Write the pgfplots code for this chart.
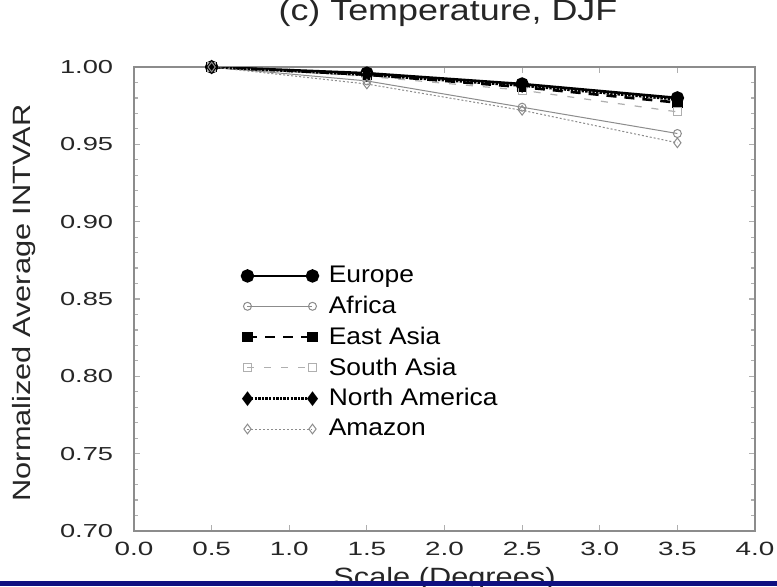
\documentclass[border=0pt]{standalone}
\usepackage{pgfplots}
\pgfplotsset{compat=1.18}
\usepackage{graphicx}
\usepackage{fontspec}
\setmainfont{Liberation Sans}
\definecolor{navyband}{RGB}{16,16,128}
\definecolor{frame}{RGB}{140,140,140}
\definecolor{grayA}{RGB}{140,140,140}
\definecolor{grayS}{RGB}{175,175,175}
\newcommand{\legtxt}[1]{\scalebox{1.1}[1]{#1}}
\begin{document}
\begin{tikzpicture}
\useasboundingbox (0,0) rectangle (388.5pt,293pt);
\clip (0,0) rectangle (388.5pt,293pt);
\fill[white] (0,0) rectangle (388.5pt,293pt);
\begin{axis}[
  at={(67pt,27.5pt)}, anchor=south west,
  scale only axis, width=310.5pt, height=232pt,
  xmin=0, xmax=4, ymin=0.70, ymax=1.00,
  xtick={0,0.5,...,4}, ytick={0.70,0.75,...,1.001},
  minor y tick num=4,
  axis line style={frame, line width=0.8pt},
  major tick style={grayS, line width=0.6pt},
  minor tick style={grayS, line width=0.6pt},
  major tick length=3pt, minor tick length=1.8pt,
  tick align=inside,
  /pgf/number format/assume math mode=true,
  xticklabel style={/pgf/number format/.cd, fixed, fixed zerofill, precision=1, /tikz/.cd, font=\fontsize{9.6}{10}\selectfont, xscale=1.45, inner sep=0pt, yshift=-5.5pt, text=black!85},
  yticklabel style={/pgf/number format/.cd, fixed, fixed zerofill, precision=2, /tikz/.cd, font=\fontsize{9.4}{10}\selectfont, xscale=1.45, inner sep=0pt, xshift=-7pt, text=black!85},
  title={(c) Temperature, DJF},
  title style={at={(axis description cs:0.5056,1.0733)}, anchor=base, font=\fontsize{14.7}{16}\selectfont, xscale=1.22, inner sep=0pt, text=black!85},
  ylabel={Normalized Average INTVAR},
  ylabel style={at={(axis description cs:-0.1771,0.4914)}, anchor=center, font=\fontsize{12.5}{14}\selectfont, xscale=1.23, inner sep=0pt, text=black!85},
  xlabel={Scale (Degrees)},
  xlabel style={at={(axis description cs:0.5,-0.1185)}, anchor=base, font=\fontsize{12.5}{14}\selectfont, xscale=1.23, inner sep=0pt, text=black!85},
  legend image code/.code={\draw[#1] plot coordinates {(0pt,0pt) (32.5pt,0pt)};},
  legend style={at={(axis description cs:0.1734,0.5716)}, anchor=north west, draw=none, fill=none, inner sep=0pt, row sep=5.2pt, column sep=5.5pt,
    nodes={inner sep=0pt, font=\fontsize{12}{13}\selectfont}},
  legend cell align=left,
]
\addplot[black, line width=1.3pt, mark=*, mark size=2.7pt, mark options={solid, fill=black}]
  coordinates {(0.5,1.000) (1.5,0.996) (2.5,0.989) (3.5,0.980)};
\addlegendentry{\legtxt{Europe}}
\addplot[grayA, line width=0.5pt, mark=o, mark size=2pt, mark options={solid, fill=white}]
  coordinates {(0.5,1.000) (1.5,0.991) (2.5,0.974) (3.5,0.957)};
\addlegendentry{\legtxt{Africa}}
\addplot[black, line width=1.3pt, dash pattern=on 5pt off 4pt, mark=square*, mark size=2pt, mark options={solid, fill=black}]
  coordinates {(0.5,1.000) (1.5,0.995) (2.5,0.987) (3.5,0.977)};
\addlegendentry{\legtxt{East Asia}}
\addplot[grayS, line width=0.6pt, dash pattern=on 3.5pt off 5pt, mark=square, mark size=2pt, mark options={solid, fill=white}]
  coordinates {(0.5,1.000) (1.5,0.994) (2.5,0.985) (3.5,0.971)};
\addlegendentry{\legtxt{South Asia}}
\addplot[black, line width=1.3pt, dash pattern=on 1.2pt off 0.6pt, mark=diamond*, mark size=2.6pt, mark options={solid, fill=black}]
  coordinates {(0.5,1.000) (1.5,0.995) (2.5,0.988) (3.5,0.979)};
\addlegendentry{\legtxt{North America}}
\addplot[grayA, line width=0.5pt, dash pattern=on 1pt off 1pt, mark=diamond, mark size=2.4pt, mark options={solid, fill=white}]
  coordinates {(0.5,1.000) (1.5,0.989) (2.5,0.972) (3.5,0.951)};
\addlegendentry{\legtxt{Amazon}}
\end{axis}
\fill[navyband] (0,0) rectangle (388.5pt,2.5pt);
\end{tikzpicture}
\end{document}
